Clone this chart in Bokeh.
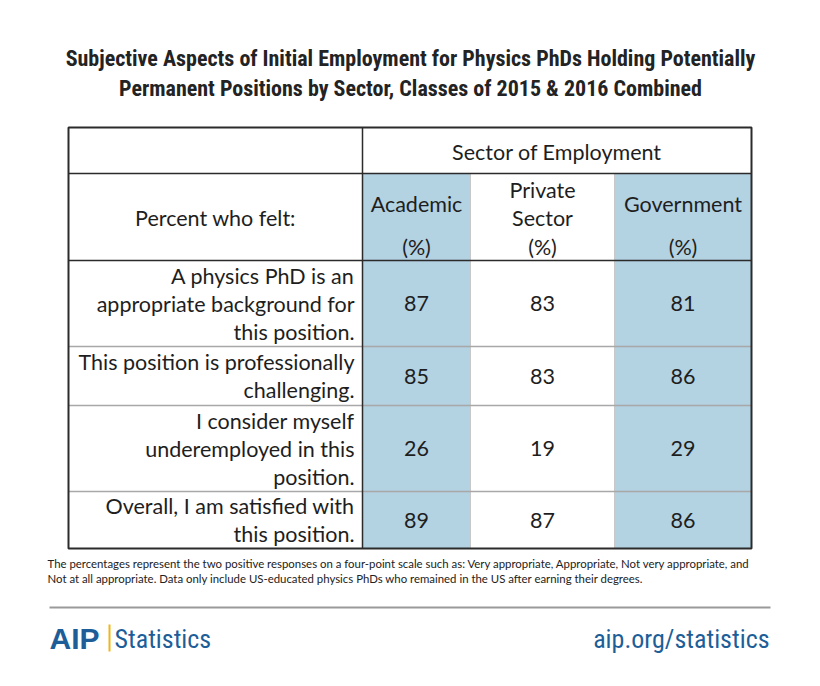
from bokeh.plotting import figure
from bokeh.models import Range1d
from bokeh.core.properties import value
from bokeh.embed import file_html
from bokeh.resources import INLINE

# ---------------- data ----------------
title_lines = ["Subjective Aspects of Initial Employment for Physics PhDs Holding Potentially",
               "Permanent Positions by Sector, Classes of 2015 & 2016 Combined"]
group_header = "Sector of Employment"
row_header = "Percent who felt:"
sectors = [["Academic", "(%)"], ["Private", "Sector", "(%)"], ["Government", "(%)"]]
questions = [["A physics PhD is an", "appropriate background for", "this position."],
             ["This position is professionally", "challenging."],
             ["I consider myself", "underemployed in this", "position."],
             ["Overall, I am satisfied with", "this position."]]
academic = [87, 85, 26, 89]
private = [83, 83, 19, 87]
government = [81, 86, 29, 86]
footnote = ["The percentages represent the two positive responses on a four-point scale such as: Very appropriate, Appropriate, Not very appropriate, and",
            " Not at all appropriate.  Data only include US-educated physics PhDs who remained in the US after earning their degrees."]
brand = "AIP"
brand_word = "Statistics"
url = "aip.org/statistics"

# ---------------- layout ----------------
W, H = 804, 670
p = figure(width=W, height=H, x_range=Range1d(0, W), y_range=Range1d(H, 0),
           output_backend="svg", toolbar_location=None, x_axis_type=None, y_axis_type=None,
           min_border=0, outline_line_color=None, background_fill_color="white")
p.grid.visible = False

TFONT = value("Roboto Condensed")
BFONT = value("Lato")
TXT = "#1e1e1e"

# title
for i, t in enumerate(title_lines):
    p.text(x=[410], y=[58 + 30 * i], text=[t], text_font=TFONT, text_font_size="22px",
           text_font_style="bold", text_align="center", text_baseline="middle", text_color="#232323")

# table geometry
L, R = 68, 751
xs = [362, 470, 614, R]
y_top, y_grp, y_hdr = 127, 173, 260
row_bounds = [260, 346, 405, 491, 548]
blue = "#b3d2e2"

p.quad(left=[xs[0], xs[2]], right=[xs[1], xs[3]], top=[y_grp, y_grp], bottom=[row_bounds[-1]] * 2,
       fill_color=blue, line_color=None)

gray = "#a8a8a8"
p.segment(x0=[xs[1], xs[2]], y0=[y_grp] * 2, x1=[xs[1], xs[2]], y1=[row_bounds[-1]] * 2,
          line_color="#c8c8c8", line_width=1)
p.segment(x0=[L] * 3, y0=row_bounds[1:4], x1=[R] * 3, y1=row_bounds[1:4], line_color=gray, line_width=1.5)
dark = "#2b2b2b"
p.segment(x0=[L, L, xs[0]], y0=[y_grp, y_hdr, y_top], x1=[R, R, xs[0]], y1=[y_grp, y_hdr, row_bounds[-1]],
          line_color=dark, line_width=1.5)
p.quad(left=[L], right=[R], top=[y_top], bottom=[row_bounds[-1]], fill_color=None,
       line_color=dark, line_width=2)

fs = "21.5px"
p.text(x=[(xs[0] + R) / 2], y=[151], text=[group_header], text_font=BFONT, text_font_size=fs,
       text_align="center", text_baseline="middle", text_color=TXT)
p.text(x=[(L + xs[0]) / 2], y=[217], text=[row_header], text_font=BFONT, text_font_size=fs,
       text_align="center", text_baseline="middle", text_color=TXT)
col_centers = [(xs[0] + xs[1]) / 2, (xs[1] + xs[2]) / 2, (xs[2] + xs[3]) / 2]
for cx, lines in zip(col_centers, sectors):
    ys = [203, 246] if len(lines) == 2 else [189, 217, 246]
    p.text(x=[cx] * len(lines), y=ys, text=lines, text_font=BFONT, text_font_size=fs,
           text_align="center", text_baseline="middle", text_color=TXT)

LH = 28
for i, q in enumerate(questions):
    mid = (row_bounds[i] + row_bounds[i + 1]) / 2
    n = len(q)
    ys = [mid + (k - (n - 1) / 2) * LH for k in range(n)]
    p.text(x=[354] * n, y=ys, text=q, text_font=BFONT, text_font_size=fs,
           text_align="right", text_baseline="middle", text_color=TXT)
    vals = [str(academic[i]), str(private[i]), str(government[i])]
    p.text(x=col_centers, y=[mid] * 3, text=vals, text_font=BFONT, text_font_size=fs,
           text_align="center", text_baseline="middle", text_color=TXT)

for i, t in enumerate(footnote):
    p.text(x=[47], y=[563 + 14.5 * i], text=[t], text_font=BFONT, text_font_size="11.4px",
           text_align="left", text_baseline="middle", text_color="#222222")

p.segment(x0=[49], y0=[607], x1=[770], y1=[607], line_color="#9a9a9a", line_width=2)

navy = "#1d5e98"
p.text(x=[49], y=[638], text=[brand], text_font=value("Liberation Sans"), text_font_size="30px",
       text_font_style="bold", text_align="left", text_baseline="middle", text_color=navy)
p.segment(x0=[109], y0=[624], x1=[109], y1=[651], line_color="#f2b519", line_width=2)
p.text(x=[114], y=[638], text=[brand_word], text_font=TFONT, text_font_size="26px",
       text_align="left", text_baseline="middle", text_color=navy)
p.text(x=[769], y=[638], text=[url], text_font=TFONT, text_font_size="26px",
       text_align="right", text_baseline="middle", text_color=navy)

open("out.html", "w").write(file_html(p, INLINE))
